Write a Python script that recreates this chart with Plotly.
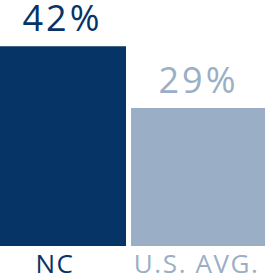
import plotly.graph_objects as go

categories = ["NC", "U.S. AVG."]
values = [42, 29]
value_labels = ["42%", "29%"]
colors = ["#063466", "#9aafc5"]

fig = go.Figure()
fig.add_trace(go.Bar(x=[0, 1], y=values, marker=dict(color=colors, line=dict(width=0)),
                     width=0.964, hoverinfo="skip"))

val_xshift = [3, 0]
cat_xshift = [-4, -2]
for i, (lab, v, c, cat) in enumerate(zip(value_labels, values, colors, categories)):
    fig.add_annotation(x=i, y=v, text=lab, showarrow=False, yanchor="bottom", yshift=2,
                       xshift=val_xshift[i],
                       font=dict(family="Open Sans", size=36, color=c))
    fig.add_annotation(x=i, y=0, text=cat, showarrow=False, yanchor="top", yshift=3,
                       xshift=cat_xshift[i],
                       font=dict(family="Open Sans", size=26, color=c))

fig.update_layout(
    width=277, height=280, margin=dict(l=0, r=0, t=0, b=34),
    paper_bgcolor="white", plot_bgcolor="white", showlegend=False,
    xaxis=dict(range=[-0.4245, 1.568], visible=False, fixedrange=True),
    yaxis=dict(range=[0, 51.7], visible=False, fixedrange=True),
)
fig.write_html(
    "out.html", config={"displayModeBar": False},
    post_script=(
        "document.body.style.margin='0';document.body.style.overflow='hidden';"
        "document.querySelectorAll('.annotation-text').forEach(function(e){"
        "e.style.letterSpacing=(e.textContent.indexOf('%')>=0)?'3px':'1.6px';});"
    ),
)
